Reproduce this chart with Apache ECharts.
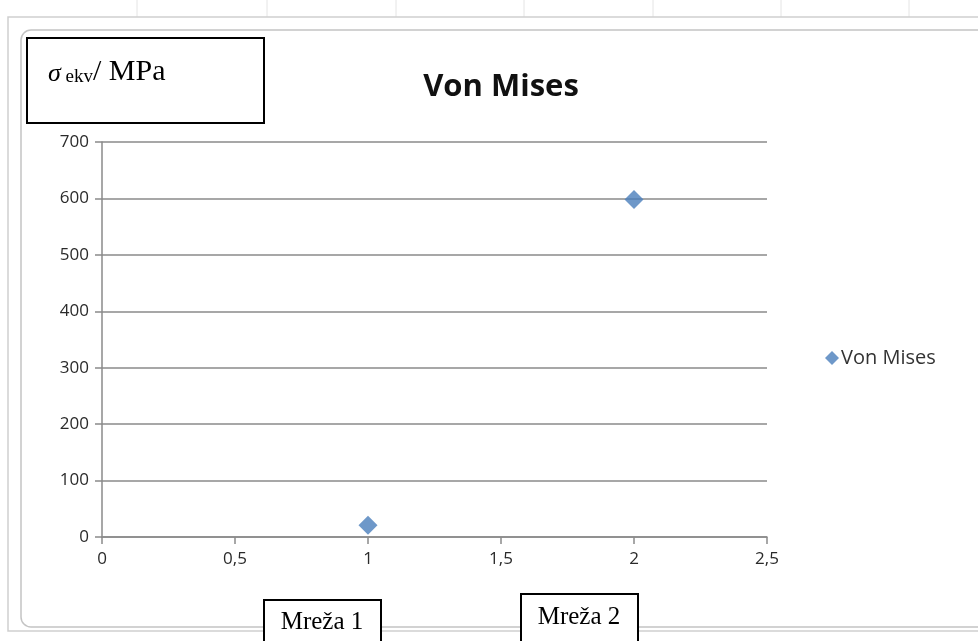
<!DOCTYPE html>
<html><head><meta charset="utf-8">
<script src="https://cdn.jsdelivr.net/npm/echarts@6/dist/echarts.min.js"></script>
<style>html,body{margin:0;padding:0;background:#fff}#c{width:978px;height:641px}</style>
</head><body><div id="c"></div>
<script>
const seriesName = 'Von Mises';
const xValues = [1, 2];
const yValues = [21, 598];
const xTicks = [0, 0.5, 1, 1.5, 2, 2.5];
const yTicks = [0, 100, 200, 300, 400, 500, 600, 700];
const titleText = 'Von Mises';
const boxLabels = ['Mreža 1', 'Mreža 2'];

const chart = echarts.init(document.getElementById('c'), null, {renderer: 'canvas'});
const font = '"Open Sans", "Liberation Sans", sans-serif';
const serif = '"Liberation Serif", "DejaVu Serif", serif';
const bgLines = [137, 267, 396, 524, 653, 781, 909].map(x => ({
  type: 'line', silent: true, z: 0,
  shape: {x1: x, y1: 0, x2: x, y2: 17}, style: {stroke: '#e4e4e4', lineWidth: 1}
}));
chart.setOption({
  animation: false,
  backgroundColor: '#fff',
  title: {text: titleText, left: 496, top: 67, textAlign: 'center',
    textStyle: {fontFamily: font, fontSize: 31, fontWeight: 'bold', color: '#111'}},
  grid: {left: 102, right: 211, top: 142, bottom: 104},
  legend: {left: 820, top: 343, itemWidth: 14, itemHeight: 14, itemGap: 3,
    icon: 'diamond',
    textStyle: {fontFamily: font, fontSize: 20, color: '#333', padding: [0,0,0,-3]},
    data: [seriesName]},
  xAxis: {type: 'value', min: 0, max: 2.5, interval: 0.5,
    axisLine: {onZero: false, lineStyle: {color: '#8a8a8a', width: 1.5}},
    axisTick: {show: true, length: 7, lineStyle: {color: '#8a8a8a', width: 1.5}},
    splitLine: {show: false},
    axisLabel: {margin: 14, fontFamily: font, fontSize: 17, color: '#2a2a2a',
      formatter: v => String(v).replace('.', ',')}},
  yAxis: {type: 'value', min: 0, max: 700, interval: 100,
    axisLine: {show: true, lineStyle: {color: '#8a8a8a', width: 1.5}},
    axisTick: {show: true, length: 7, lineStyle: {color: '#8a8a8a', width: 1.5}},
    splitLine: {show: true, lineStyle: {color: '#8a8a8a', width: 1.5}},
    axisLabel: {margin: 13, fontFamily: font, fontSize: 17, color: '#2a2a2a'}},
  series: [{
    name: seriesName, type: 'scatter', symbol: 'diamond', symbolSize: 19,
    itemStyle: {color: '#4a7ebb'},
    data: xValues.map((x, i) => [x, yValues[i]])
  }],
  graphic: [
    ...bgLines,
    {type: 'rect', silent: true, z: 0, shape: {x: 8, y: 17, width: 980, height: 614},
      style: {fill: 'none', stroke: '#cfcfcf', lineWidth: 1.5}},
    {type: 'rect', silent: true, z: 0, shape: {x: 21, y: 30, width: 970, height: 597, r: 10},
      style: {fill: 'none', stroke: '#c4c4c4', lineWidth: 1.5}},
    {type: 'group', left: 26, top: 37, children: [
      {type: 'rect', shape: {x: 0, y: 0, width: 237, height: 85},
        style: {fill: '#fff', stroke: '#000', lineWidth: 2}},
      {type: 'text', x: 21, y: 19, style: {
        text: '{s|σ}{sub| ekv}{n|/ MPa}',
        rich: {
          s: {fontFamily: serif, fontStyle: 'italic', fontSize: 26, fill: '#000', verticalAlign: 'bottom'},
          sub: {fontFamily: serif, fontSize: 19, fill: '#000', padding: [11, 0, 0, 0], verticalAlign: 'bottom'},
          n: {fontFamily: serif, fontSize: 30, fill: '#000', verticalAlign: 'bottom'}
        }}}
    ]},
    {type: 'group', left: 263, top: 599, children: [
      {type: 'rect', shape: {x: 0, y: 0, width: 117, height: 50},
        style: {fill: '#fff', stroke: '#000', lineWidth: 2}},
      {type: 'text', x: 58, y: 22, style: {text: boxLabels[0], align: 'center', verticalAlign: 'middle',
        fontFamily: serif, fontSize: 25, fill: '#000'}}
    ]},
    {type: 'group', left: 520, top: 593, children: [
      {type: 'rect', shape: {x: 0, y: 0, width: 117, height: 56},
        style: {fill: '#fff', stroke: '#000', lineWidth: 2}},
      {type: 'text', x: 58, y: 23, style: {text: boxLabels[1], align: 'center', verticalAlign: 'middle',
        fontFamily: serif, fontSize: 25, fill: '#000'}}
    ]}
  ]
});
</script></body></html>
